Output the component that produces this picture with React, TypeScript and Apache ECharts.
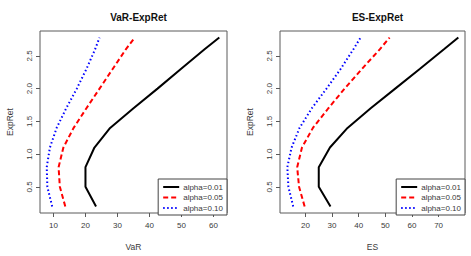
import React, { useEffect, useRef } from "react";
import * as echarts from "echarts";

const expRet = [0.2, 0.5, 0.8, 1.1, 1.4, 1.7, 2.0, 2.3, 2.6, 2.78];
const varA01 = [23.3, 20.0, 20.0, 22.8, 27.7, 35.0, 42.5, 49.8, 57.2, 61.8];
const varA05 = [13.7, 12.0, 11.6, 13.1, 16.3, 20.3, 24.4, 28.5, 32.6, 35.4];
const varA10 = [9.6, 8.1, 7.9, 8.9, 11.0, 14.0, 17.3, 20.3, 23.0, 24.4];
const esA01 = [29.4, 25.0, 25.0, 29.2, 35.8, 44.5, 53.7, 62.9, 72.0, 77.4];
const esA05 = [19.7, 17.6, 16.9, 18.7, 22.8, 28.6, 34.7, 41.2, 47.9, 51.6];
const esA10 = [15.4, 13.6, 13.2, 14.8, 17.8, 22.4, 27.9, 33.2, 38.0, 40.7];
const seriesNames = ["alpha=0.01", "alpha=0.05", "alpha=0.10"];
const varTicks = [10, 20, 30, 40, 50, 60];
const esTicks = [20, 30, 40, 50, 60, 70];
const yTicks = [0.5, 1.0, 1.5, 2.0, 2.5];

const FONT = "Liberation Sans";
const TXT = "#3a3a3a";
const BOX = "#5a5a5a";

const styles = [
  { color: "#000000", type: "solid" as any, width: 2 },
  { color: "#ff0000", type: [5, 3] as any, width: 2 },
  { color: "#0000ff", type: [1.5, 2.5] as any, width: 2 },
];

function pairs(xs: number[]) {
  return xs.map((x, i) => [x, expRet[i]]);
}

export default function App() {
  const ref = useRef<HTMLDivElement>(null);
  useEffect(() => {
    const chart = echarts.init(ref.current!, null, { renderer: "svg" });
    const grids = [
      { left: 40, top: 31, width: 187, height: 184 },
      { left: 280, top: 31, width: 185, height: 184 },
    ];
    const xAxisCommon = (gi: number, min: number, max: number, ticks: number[], name: string) => ({
      type: "value",
      gridIndex: gi,
      min,
      max,
      splitLine: { show: false },
      axisLine: { show: false },
      axisTick: { show: true, length: 4, customValues: ticks, lineStyle: { color: BOX } },
      axisLabel: {
        customValues: ticks,
        fontFamily: FONT,
        fontSize: 8,
        color: TXT,
        margin: 8,
      },
      name,
      nameLocation: "middle",
      nameGap: 29,
      nameTextStyle: { fontFamily: FONT, fontSize: 8.5, color: TXT },
    });
    const yAxisCommon = (gi: number) => ({
      type: "value",
      gridIndex: gi,
      min: 0.1,
      max: 2.88,
      splitLine: { show: false },
      axisLine: { show: false },
      axisTick: { show: true, length: 4, customValues: yTicks, lineStyle: { color: BOX } },
      axisLabel: {
        customValues: yTicks,
        rotate: 90,
        fontFamily: FONT,
        fontSize: 8,
        color: TXT,
        margin: 7,
        formatter: (v: number) => v.toFixed(1),
      },
      name: "ExpRet",
      nameLocation: "middle",
      nameRotate: 90,
      nameGap: 26,
      nameTextStyle: { fontFamily: FONT, fontSize: 8.5, color: TXT },
    });
    const mk = (gi: number, arrs: number[][]) =>
      arrs.map((a, i) => ({
        type: "line",
        name: seriesNames[i],
        xAxisIndex: gi,
        yAxisIndex: gi,
        data: pairs(a),
        symbol: "none",
        lineStyle: styles[i],
        itemStyle: { color: styles[i].color },
      }));
    const legendCommon = {
      orient: "vertical",
      data: seriesNames,
      itemWidth: 16,
      itemHeight: 8,
      itemGap: 2.5,
      padding: [4, 4, 3, 4],
      borderColor: "#444",
      borderWidth: 1,
      backgroundColor: "#fff",
      selectedMode: false,
      itemStyle: { color: "transparent", borderColor: "transparent", borderWidth: 0, opacity: 0 },
      textStyle: { fontFamily: FONT, fontSize: 8, color: TXT, padding: [0, 0, 0, -1] },
      bottom: 41,
    };
    chart.setOption({
      animation: false,
      backgroundColor: "#fff",
      title: [
        {
          text: "VaR-ExpRet",
          left: 133.5,
          top: 7,
          textAlign: "center",
          textStyle: { fontFamily: FONT, fontSize: 10, fontWeight: "bold", color: "#111" },
        },
        {
          text: "ES-ExpRet",
          left: 372.5,
          top: 7,
          textAlign: "center",
          textStyle: { fontFamily: FONT, fontSize: 10, fontWeight: "bold", color: "#111" },
        },
      ],
      grid: grids.map((g) => ({ ...g, show: true, borderColor: BOX, borderWidth: 1, backgroundColor: "transparent" })),
      xAxis: [
        xAxisCommon(0, 5.8, 64.2, varTicks, "VaR"),
        xAxisCommon(1, 10.45, 79.9, esTicks, "ES"),
      ],
      yAxis: [yAxisCommon(0), yAxisCommon(1)],
      legend: [
        { ...legendCommon, right: 471 - 227 },
        { ...legendCommon, right: 471 - 465 },
      ],
      series: [...mk(0, [varA01, varA05, varA10]), ...mk(1, [esA01, esA05, esA10])],
    } as any);
    return () => chart.dispose();
  }, []);
  return (
    <div
      ref={ref}
      style={{ position: "fixed", left: 0, top: 0, width: 471, height: 256, background: "#fff" }}
    />
  );
}
